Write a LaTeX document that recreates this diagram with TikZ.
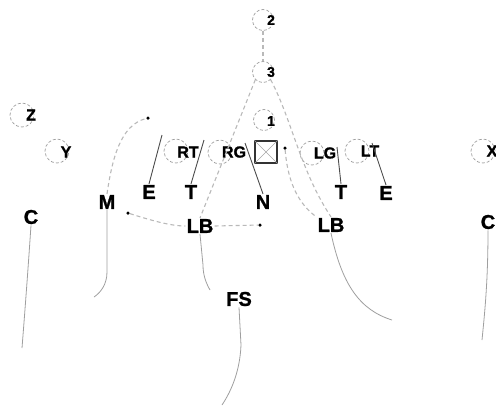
\documentclass[tikz,border=0pt]{standalone}
\usepackage{fontspec}
\setmainfont{Liberation Sans}[BoldFeatures={FakeBold=1.2}]
\usetikzlibrary{calc}
\tikzset{
  player/.style={circle, draw=gray!75, densely dashed, line width=0.7pt, minimum size=24pt, inner sep=0pt},
  smallplayer/.style={player, minimum size=21pt},
  plab/.style={inner sep=0pt, font=\fontsize{16}{16}\selectfont\bfseries},
  numlab/.style={inner sep=0pt, font=\fontsize{14}{14}\selectfont\bfseries},
  def/.style={inner sep=1pt, font=\fontsize{20}{20}\selectfont\bfseries},
  route/.style={draw=gray!55, dashed, dash pattern=on 4pt off 3pt, line width=1.1pt},
  run/.style={draw=gray!75, line width=0.8pt},
  blockline/.style={draw=gray!60!black, line width=0.9pt},
  spot/.style={circle, fill=black, inner sep=0pt, minimum size=3.5pt}
}
\begin{document}
\begin{tikzpicture}[x=1pt, y=-1pt]
\useasboundingbox (0,0) rectangle (496,408);

% backfield numbers
\node[smallplayer] (c2) at (263,20) {};
\node[numlab] (n2) at (271,20) {2};
\node[smallplayer] (c3) at (263,72) {};
\node[numlab] (n3) at (271,72) {3};
\node[smallplayer] (c1) at (264,120) {};
\node[numlab] (n1) at (271,121) {1};

% offensive players
\node[player] (z) at (22,115) {};
\node[plab] (zl) at (31,115) {Z};
\node[player] (y) at (57,151) {};
\node[plab] (yl) at (66,152) {Y};
\node[player] (rt) at (176,151) {};
\node[plab] (rtl) at (188,152) {RT};
\node[player] (rg) at (220,152) {};
\node[plab] (rgl) at (234,152) {RG};
\node[player] (lg) at (312,153) {};
\node[plab] (lgl) at (325,153) {LG};
\node[player] (lt) at (357,151) {};
\node[plab] (ltl) at (370,151) {LT};
\node[player] (x) at (483,151) {};
\node[plab] (xl) at (492,151) {X};

% center
\node[draw=gray!40!black, line width=1.3pt, minimum size=22pt, inner sep=0pt] (ctr) at (266,152) {};
\draw[gray!70, line width=0.6pt] (ctr.north west) -- (ctr.south east) (ctr.north east) -- (ctr.south west);

% defenders
\node[def] (m) at (107,202) {M};
\node[def] (e1) at (149,192) {E};
\node[def] (t1) at (191,192) {T};
\node[def] (nt) at (263,202) {N};
\node[def] (t2) at (341,192) {T};
\node[def] (e2) at (386,193) {E};
\node[def] (lb1) at (200,226) {LB};
\node[def] (lb2) at (331,225) {LB};
\node[def] (cl) at (31,217) {C};
\node[def] (cr) at (488,222) {C};
\node[def] (fs) at (239,299) {FS};

% route end points
\node[spot] (dm) at (148,118) {};
\node[spot] (dl) at (128,213) {};
\node[spot] (dr) at (260,225) {};
\node[spot] (dc) at (285,148) {};

% dashed routes
\draw[route] (c2) -- (c3);
\draw[route] (c3.south west) -- (lb1.north);
\draw[route] (c3.south east) .. controls (292,120) and (300,170) .. (lb2.north);
\draw[route] (dc) .. controls (288,185) and (300,205) .. (lb2.north west);
\draw[route] (m.north) .. controls (112,160) and (120,125) .. (dm);
\draw[route] (dl) .. controls (150,220) and (170,226) .. (lb1.west);
\draw[route] (lb1.east) -- (dr);

% blocking lines
\coordinate (be1) at (162,135);
\coordinate (bt1) at (204,140);
\coordinate (bn) at (245,143);
\coordinate (bt2) at (337,147);
\coordinate (be2) at (372,143);
\draw[blockline] (e1.north) -- (be1);
\draw[blockline] (t1.north) -- (bt1);
\draw[blockline] (nt.north) -- (bn);
\draw[blockline] (t2.north) -- (bt2);
\draw[blockline] (e2.north) -- (be2);

% pass drops
\coordinate (ecl) at (22,348);
\coordinate (em) at (94,297);
\coordinate (elb1) at (210,290);
\coordinate (efs) at (222,405);
\coordinate (elb2) at (392,320);
\coordinate (ecr) at (482,340);
\draw[run] (cl.south) .. controls (28,270) and (25,310) .. (ecl);
\draw[run] (m.south) -- (107,272) .. controls (107,285) and (100,293) .. (em);
\draw[run] (lb1.south) -- (203,265) .. controls (203,275) and (206,283) .. (elb1);
\draw[run] (fs.south) -- (241,345) .. controls (240,370) and (232,390) .. (efs);
\draw[run] (lb2.south) .. controls (342,285) and (360,310) .. (elb2);
\draw[run] (cr.south) .. controls (488,280) and (485,310) .. (ecr);
\end{tikzpicture}
\end{document}
